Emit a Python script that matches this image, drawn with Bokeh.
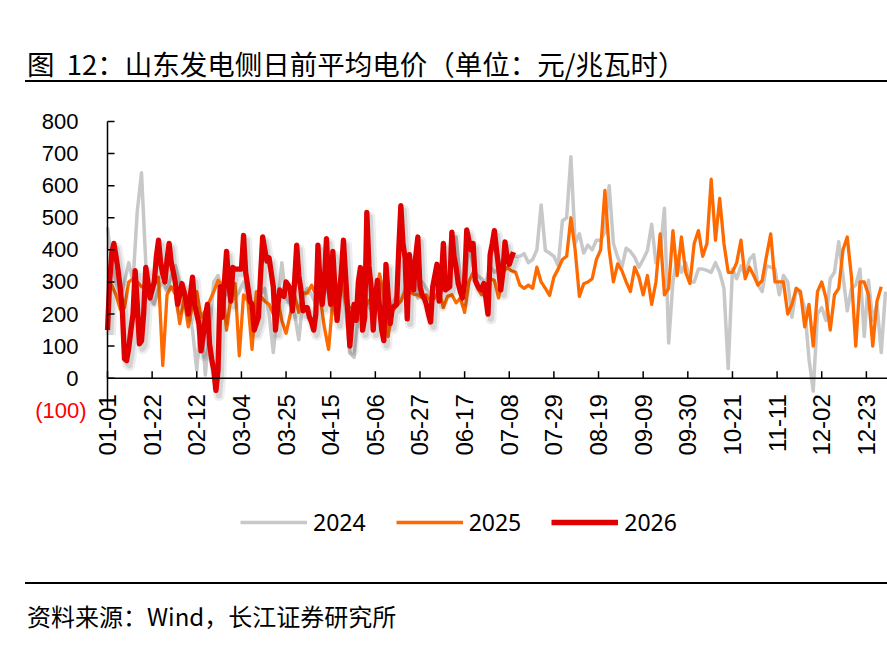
import math
import pandas as pd
from bokeh.plotting import figure
from bokeh.models import Range1d, Legend, LegendItem, Div
from bokeh.layouts import column
from bokeh.core.properties import value
from bokeh.embed import file_html
from bokeh.resources import INLINE

# ---------------- data ----------------
tick_labels = ["01-01", "01-22", "02-12", "03-04", "03-25", "04-15", "05-06", "05-27", "06-17",
               "07-08", "07-29", "08-19", "09-09", "09-30", "10-21", "11-11", "12-02", "12-23"]
y_ticks = [-100, 0, 100, 200, 300, 400, 500, 600, 700, 800]
y_tick_labels = ["(100)", "0", "100", "200", "300", "400", "500", "600", "700", "800"]

# 2024 and 2025: one value every second day
price_2024 = [
    470, 360, 300, 250, 300, 360, 300, 520, 640, 360,
    250, 230, 280, 300, 270, 320, 350, 300, 260, 220,
    150, 25, 200, 10, 150, 300, 320, 280, 260, 300,
    250, 270, 300, 250, 230, 240, 260, 280, 200, 80,
    220, 360, 250, 230, 200, 120, 250, 280, 260, 230,
    250, 300, 260, 200, 240, 300, 220, 80, 65, 200,
    260, 240, 210, 280, 300, 250, 200, 230, 260, 240,
    280, 300, 320, 250, 300, 280, 260, 300, 320, 330,
    300, 350, 440, 300, 280, 420, 350, 320, 310, 300,
    350, 330, 340,
    370, 377, 385, 380, 380, 388, 360, 370, 400, 540,
    398, 390, 380, 350, 490, 500, 690, 420, 450, 390,
    415, 400, 430, 430, 455, 600, 420, 377, 346, 405,
    395, 377, 346, 370, 398, 480, 360, 390, 530, 110,
    300, 380, 330, 360, 300, 300, 340, 340, 336, 330,
    360, 330, 280, 30, 340, 310, 350, 320, 370, 385,
    290, 270, 350, 346, 340, 260, 320, 300, 190, 280,
    260, 220, 60, -40, 200, 220, 180, 310, 330, 425,
    320, 210, 280, 290, 340, 130, 305, 180, 230, 80,
    270,
]

price_2025 = [
    305, 290, 260, 215, 220, 300, 310, 300, 285, 290,
    280, 290, 315, 40, 260, 285, 260, 170, 250, 160,
    230, 270, 190, 210, 240, 270, 305, 290, 150, 250,
    295, 70, 260, 240, 90, 270, 255, 240, 230, 200,
    250, 180, 140, 200, 260, 205, 265, 265, 290, 260,
    255, 160, 90, 240, 275, 315, 235, 220, 220, 200,
    210, 230, 250, 230, 325, 260, 130, 210, 225, 240,
    270, 270, 262, 260, 250, 260, 240, 250, 275, 220,
    255, 260, 235, 250, 205, 300, 330, 280, 260, 285,
    310, 305,
    250, 330, 345, 335, 330, 290, 280, 290, 280, 346,
    300, 280, 258, 315, 340, 370, 380, 500, 400, 255,
    294, 300, 310, 370, 400, 585, 400, 300, 356, 335,
    300, 270, 346, 315, 260, 320, 230,
    300, 450, 260, 280, 460, 320, 440, 330, 295, 420,
    460, 380, 420, 620, 430, 560, 420, 330, 330, 360,
    430, 310, 346, 320, 290, 305, 380, 450, 300, 300,
    300, 200, 230, 280, 270, 160, 230, 100, 270, 300,
    250, 150, 260, 280, 400, 440, 315, 100, 300, 300,
    260, 100, 240, 285,
]

# 2026: one value per day
price_2026 = [
    150, 300, 390, 420, 380, 335, 280, 210, 60, 55,
    95, 150, 200, 335, 230, 107, 117, 200, 345, 300,
    250, 275, 300, 380, 430, 360, 325, 300, 370, 420,
    360, 330, 295, 230, 260, 295, 270, 240, 200, 260,
    315, 230, 200, 170, 85, 130, 190, 230, 107, 60,
    25, -38, 25, 285, 190, 300, 395, 300, 240, 345,
    340, 340, 340, 340, 445, 330, 285, 240, 230, 150,
    170, 190, 320, 440, 400, 365, 375, 330, 285, 150,
    220, 275, 260, 255, 300, 290, 275, 210, 300, 415,
    320, 275, 210, 220, 220, 190, 175, 150, 200, 415,
    300, 230, 295, 435, 300, 230, 395, 280, 180, 255,
    330, 430, 320, 210, 100, 180, 230, 180, 300, 345,
    150, 190, 517, 350, 285, 150, 250, 305, 220, 150,
    117, 355, 260, 170, 220, 225, 230, 400, 538, 420,
    375, 185, 385, 330, 275, 380, 440, 285, 260, 250,
    230, 200, 175, 285, 320, 355, 240, 300, 420, 275,
    280, 285, 455, 380, 345, 295, 270, 250, 300, 462,
    430, 400, 420, 305, 290, 280, 275, 295, 250, 200,
    385, 420, 460, 400, 345, 275, 330, 425, 375, 355,
    375, 393,
]

series_names = ["2024", "2025", "2026"]

# day index on a 2024 (leap-year) calendar
day_2024 = [2 * i for i in range(len(price_2024))]
day_2025 = [2 * i for i in range(len(price_2025))]
day_2026 = list(range(len(price_2026)))
base = pd.Timestamp("2024-01-01")
tick_days = [(pd.Timestamp("2024-" + t) - base).days for t in tick_labels]

# ---------------- layout constants ----------------
W, H = 887, 500
AXIS_PX = 107            # screen x of the value axis
TOP_PX = 39              # screen distance from figure top to the 800 level
X_END = 366
PX_PER_DAY = (W - 2 - AXIS_PX) / X_END
PX_PER_UNIT = 288.8 / 900.0          # 800 -> -100 spans 288.8 px
Y_TOP = y_ticks[-1] + TOP_PX / PX_PER_UNIT
Y_BOTTOM = Y_TOP - H / PX_PER_UNIT
X_START = -AXIS_PX / PX_PER_DAY
X_STOP = (W - AXIS_PX) / PX_PER_DAY

C24, C25, C26 = "#C8C8C8", "#FF6A00", "#E00000"
FONT = value("Liberation Sans")

p = figure(width=W, height=H, x_range=Range1d(X_START, X_STOP), y_range=Range1d(Y_BOTTOM, Y_TOP),
           x_axis_location=None, y_axis_location=None, toolbar_location=None, tools="",
           output_backend="svg",
           min_border_left=0, min_border_right=0, min_border_top=0, min_border_bottom=0)
p.outline_line_color = None
p.background_fill_color = "white"
p.border_fill_color = "white"
p.grid.visible = False

# shadow ranges (shift the red line a few px right / down)
dx_days = 3 / PX_PER_DAY
dy_units = 5 / PX_PER_UNIT
p.extra_x_ranges = {"sh": Range1d(X_START - dx_days, X_STOP - dx_days)}
p.extra_y_ranges = {"sh": Range1d(Y_BOTTOM + dy_units, Y_TOP + dy_units)}

r24 = p.line(day_2024, price_2024, line_color=C24, line_width=3.5, line_join="round")
r25 = p.line(day_2025, price_2025, line_color=C25, line_width=3.3, line_join="round")
p.line(day_2026, price_2026, x_range_name="sh", y_range_name="sh", line_color="black",
       line_alpha=0.07, line_width=11, line_join="round")
p.line(day_2026, price_2026, x_range_name="sh", y_range_name="sh", line_color="black",
       line_alpha=0.10, line_width=6, line_join="round")
r26 = p.line(day_2026, price_2026, line_color=C26, line_width=5.3, line_join="round")

# ---- category axis drawn at zero ----
p.segment(x0=[0], y0=[0], x1=[X_STOP], y1=[0], line_color="black", line_width=1.5)
tick_len_y = 7 / PX_PER_UNIT
p.segment(x0=tick_days, y0=[0] * len(tick_days), x1=tick_days, y1=[tick_len_y] * len(tick_days),
          line_color="black", line_width=1.5)
p.text(x=tick_days, y=[-16 / PX_PER_UNIT] * len(tick_days), text=tick_labels, angle=math.pi / 2,
       text_align="right", text_baseline="middle", text_font=FONT,
       text_font_size="24px", text_color="black")

# ---- value axis ----
p.segment(x0=[0], y0=[y_ticks[0]], x1=[0], y1=[y_ticks[-1]], line_color="black", line_width=1.5)
tick_len_x = 7 / PX_PER_DAY
p.segment(x0=[0] * len(y_ticks), y0=y_ticks, x1=[tick_len_x] * len(y_ticks), y1=y_ticks,
          line_color="black", line_width=1.5)
p.text(x=[-29 / PX_PER_DAY] * (len(y_ticks) - 1), y=y_ticks[1:], text=y_tick_labels[1:],
       text_align="right", text_baseline="middle", text_font=FONT, text_font_size="22px",
       text_color="black")
p.text(x=[-21 / PX_PER_DAY], y=y_ticks[:1], text=y_tick_labels[:1],
       text_align="right", text_baseline="middle", text_font=FONT, text_font_size="22px",
       text_color="#FF0000")

legend = Legend(items=[LegendItem(label=series_names[0], renderers=[r24]),
                       LegendItem(label=series_names[1], renderers=[r25]),
                       LegendItem(label=series_names[2], renderers=[r26])],
                orientation="horizontal", location=(240, 44), glyph_width=67, glyph_height=28,
                label_standoff=6, spacing=30, padding=0, margin=0, border_line_color=None,
                background_fill_alpha=0, label_text_font="Noto Sans", label_text_font_size="23px",
                label_text_color="black")
p.add_layout(legend)

title_html = ('<div style="box-sizing:border-box;width:862px;height:82px;margin-left:25px;'
              'padding-top:50px;padding-left:2px;border-bottom:2px solid #000;'
              "font-family:'Noto Sans CJK SC';font-size:27.5px;line-height:27px;white-space:nowrap;"
              'color:#000;">图&nbsp;&nbsp;12：山东发电侧日前平均电价（单位：元/兆瓦时）</div>')
foot_html = ('<div style="box-sizing:border-box;width:862px;height:84px;margin-left:25px;'
             'padding-top:17px;padding-left:2px;border-top:2px solid #000;'
             "font-family:'Noto Sans CJK SC';font-size:24px;line-height:30px;white-space:nowrap;"
             'color:#000;">资料来源：Wind，长江证券研究所</div>')
title_div = Div(text=title_html, width=W, height=82, margin=(0, 0, 0, 0))
foot_div = Div(text=foot_html, width=W, height=84, margin=(0, 0, 0, 0))

page = column(title_div, p, foot_div, spacing=0)
open("out.html", "w").write(file_html(page, INLINE))
